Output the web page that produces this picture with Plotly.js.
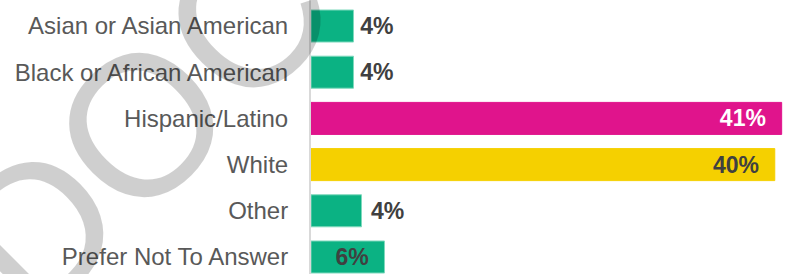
<!DOCTYPE html>
<html>
<head>
<meta charset="utf-8">
<script src="https://cdn.plot.ly/plotly-3.0.1.min.js"></script>
<style>
  html, body { margin: 0; padding: 0; background: #ffffff; }
  #chart { width: 785px; height: 274px; }
</style>
</head>
<body>
<div id="chart"></div>
<script>
// ---- data ----
const categories = [
  "Asian or Asian American",
  "Black or African American",
  "Hispanic/Latino",
  "White",
  "Other",
  "Prefer Not To Answer"
];
const percentValues = [3.7, 3.7, 41.0, 40.4, 4.4, 6.4];
const barColors = ["#0bb283", "#0bb283", "#e0148c", "#f5d000", "#0bb283", "#0bb283"];
const barEdgeColors = ["#7fd9bd", "#7fd9bd", "#e0148c", "#f5d000", "#7fd9bd", "#7fd9bd"];
const labelPositions = ["outside", "outside", "inside", "inside", "outside", "inside"];
const labelColors = ["#404040", "#404040", "#ffffff", "#404040", "#404040", "#404040"];
const labelLeading = ["\u2006", "\u2006", "", "", "\u00a0", ""];
const labelTrailing = ["", "", "\u00a0\u00a0", "\u00a0\u00a0", "", "\u00a0\u00a0"];
const watermarkText = "DOC";

const trace = {
  type: "bar",
  orientation: "h",
  y: categories,
  x: percentValues,
  marker: { color: barColors, line: { color: barEdgeColors, width: 1 } },
  texttemplate: labelTrailing.map((t, i) => labelLeading[i] + "%{x:.0f}%" + t),
  textposition: labelPositions,
  insidetextanchor: "end",
  constraintext: "none",
  cliponaxis: false,
  textfont: { family: "Liberation Sans, Arial, sans-serif", size: 23, color: labelColors, weight: "bold" },
  hoverinfo: "none"
};

// watermark: letters laid along a rotated baseline (decoration only)
const wmCenterPx = [141, 124];
const wmAngleDeg = -45;
const wmSpacingPx = 148;
const wmLetters = watermarkText.split("");
const plotLeft = 311, plotWidth = 474, figHeight = 274;
const wmAnnotations = wmLetters.map((ch, i) => {
  const k = i - (wmLetters.length - 1) / 2;
  const a = wmAngleDeg * Math.PI / 180;
  const px = wmCenterPx[0] + k * wmSpacingPx * Math.cos(a);
  const py = wmCenterPx[1] + k * wmSpacingPx * Math.sin(a);
  return {
    text: ch,
    xref: "paper", yref: "paper",
    x: (px - plotLeft) / plotWidth, y: 1 - py / figHeight,
    xanchor: "center", yanchor: "middle",
    showarrow: false,
    textangle: wmAngleDeg,
    font: { family: "Liberation Sans, Arial, sans-serif", size: 200, color: "rgba(0,0,0,0.19)" }
  };
});

const layout = {
  width: 785,
  height: 274,
  margin: { l: 311, r: 0, t: 0, b: 0, pad: 0 },
  paper_bgcolor: "#ffffff",
  plot_bgcolor: "#ffffff",
  showlegend: false,
  bargap: 0.307,
  font: { family: "Liberation Sans, Arial, sans-serif" },
  xaxis: {
    range: [0, 41.29],
    visible: false,
    showgrid: false,
    zeroline: false,
    fixedrange: true
  },
  yaxis: {
    type: "category",
    categoryorder: "array",
    categoryarray: categories,
    range: [5.368, -0.563],
    autorange: false,
    showline: true,
    linecolor: "#d9d9d9",
    linewidth: 2,
    showgrid: false,
    zeroline: false,
    ticks: "outside",
    ticklen: 16,
    tickcolor: "rgba(0,0,0,0)",
    tickfont: { family: "Liberation Sans, Arial, sans-serif", size: 24, color: "#595959" },
    fixedrange: true
  },
  annotations: wmAnnotations
};

Plotly.newPlot("chart", [trace], layout, { displayModeBar: false, staticPlot: true });
</script>
</body>
</html>
